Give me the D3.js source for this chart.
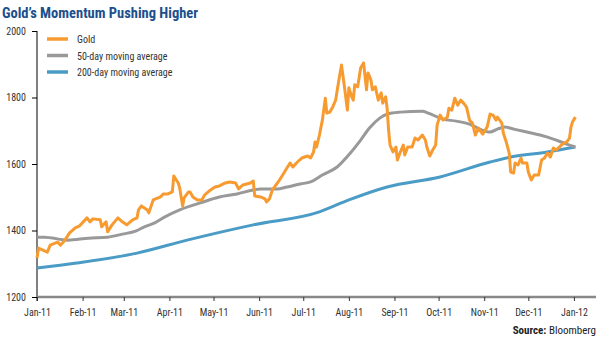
<!DOCTYPE html>
<html>
<head>
<meta charset="utf-8">
<script src="https://cdn.jsdelivr.net/npm/d3@7"></script>
<style>
  body { margin: 0; background: #fff; }
  svg { display: block; }
  .narrow { font-family: "Liberation Sans Narrow", "Roboto Condensed", "DejaVu Sans Condensed", sans-serif; }
</style>
</head>
<body>
<svg id="chart" width="600" height="344"></svg>
<script>
// x positions are days after 1 Jan 2011
var goldDays = [0,1,7,9,14,16,19,22,26,29,34,36,38,43,44,47,48,51,55,58,61,65,68,69,71,75,76,79,84,86,89,92,93,96,97,99,100,103,104,106,109,112,114,118,121,124,128,131,135,137,140,145,147,148,152,155,156,158,160,164,167,172,174,177,180,184,186,188,189,190,192,194,196,197,199,201,203,205,207,209,211,212,214,215,216,218,220,222,224,225,227,228,230,232,234,235,237,238,239,240,242,244,245,247,249,250,252,255,257,259,262,264,265,267,269,271,272,274,276,279,280,282,284,286,288,290,292,294,296,298,300,303,306,308,310,312,313,316,317,319,321,322,324,325,327,329,330,333,334,336,338,341,343,345,347,349,351,353,355,358,360,362,363,364,366];
var goldValues = [1317,1347,1335,1356,1365,1356,1371,1392,1408,1414,1438,1426,1435,1432,1411,1426,1396,1417,1438,1426,1417,1432,1438,1462,1474,1462,1453,1492,1501,1510,1510,1516,1564,1543,1528,1474,1498,1516,1516,1501,1492,1492,1507,1522,1531,1534,1543,1546,1543,1525,1537,1543,1549,1504,1501,1495,1486,1495,1522,1546,1567,1603,1591,1606,1618,1624,1618,1636,1666,1651,1687,1732,1798,1753,1756,1771,1792,1847,1898,1832,1762,1829,1802,1792,1838,1832,1889,1904,1823,1874,1853,1823,1832,1792,1814,1783,1802,1768,1702,1657,1636,1651,1612,1636,1657,1627,1651,1651,1678,1672,1687,1672,1651,1624,1642,1657,1717,1747,1732,1741,1768,1762,1798,1777,1792,1783,1771,1732,1723,1687,1708,1690,1711,1750,1747,1732,1741,1723,1693,1666,1633,1576,1573,1603,1597,1618,1603,1603,1576,1552,1567,1567,1612,1618,1633,1621,1648,1642,1651,1663,1666,1678,1711,1726,1741];

var ma50Days = [0,5,21,35,48,58,67,73,80,87,97,111,124,136,147,152,163,170,179,186,194,204,213,220,226,233,238,247,262,266,276,285,294,301,308,313,318,324,333,342,351,360,366];
var ma50Values = [1380,1380,1371,1377,1380,1389,1398,1411,1423,1441,1462,1483,1501,1510,1522,1525,1525,1531,1540,1546,1567,1591,1633,1672,1708,1738,1750,1756,1759,1753,1735,1729,1720,1705,1696,1705,1711,1705,1696,1687,1675,1660,1651];

var ma200Days = [0,27,68,102,147,192,212,238,274,308,322,347,366];
var ma200Values = [1287,1302,1332,1371,1417,1456,1492,1531,1561,1606,1621,1636,1651];

var seriesNames = ["Gold", "50-day moving average", "200-day moving average"];
var seriesColors = ["#f79b30", "#999999", "#4a9bc5"];
var yTicks = [1200, 1400, 1600, 1800, 2000];
var monthLabels = ["Jan-11","Feb-11","Mar-11","Apr-11","May-11","Jun-11","Jul-11","Aug-11","Sep-11","Oct-11","Nov-11","Dec-11","Jan-12"];

var start = new Date(2011, 0, 1);
function toDate(d) { return d3.timeDay.offset(start, d); }

var svg = d3.select("#chart");
var plotLeft = 37, plotRight = 596, plotTop = 31, plotBottom = 297;

var x = d3.scaleTime()
  .domain([start, new Date(2012, 0, 16)])
  .range([plotLeft, plotRight]);
var y = d3.scaleLinear()
  .domain([1200, 2000])
  .range([plotBottom, plotTop]);

// title
svg.append("text")
  .attr("class", "narrow")
  .attr("x", 2).attr("y", 18)
  .attr("font-size", 14.5).attr("font-weight", "bold")
  .attr("fill", "#1c4f8c")
  .text("Gold\u2019s Momentum Pushing Higher");

// y axis
var yAxis = svg.append("g")
  .attr("class", "narrow")
  .attr("transform", "translate(" + plotLeft + ",0)")
  .call(d3.axisLeft(y).tickValues(yTicks).tickSize(5).tickPadding(6).tickFormat(d3.format("d")));
yAxis.select(".domain").attr("stroke", "#000").attr("d", "M0," + plotTop + "V" + (plotBottom + 4));
yAxis.selectAll(".tick line").attr("stroke", "#000");
yAxis.selectAll("text").attr("font-size", 10).attr("fill", "#333");

// x axis
var months = monthLabels.map(function(m, i) { return new Date(2011, i, 1); });
var xAxis = svg.append("g")
  .attr("class", "narrow")
  .attr("transform", "translate(0," + plotBottom + ")")
  .call(d3.axisBottom(x).tickValues(months).tickSize(4).tickPadding(8)
    .tickFormat(function(d, i) { return monthLabels[i]; }));
xAxis.select(".domain").attr("stroke", "#888").attr("stroke-width", 2.5).attr("d", "M" + plotLeft + ",0H" + plotRight);
xAxis.selectAll(".tick line").attr("stroke", "#333");
xAxis.selectAll("text").attr("font-size", 10).attr("fill", "#333");

// lines (moving averages smoothed, gold kept raw)
var rawLine = d3.line()
  .x(function(d) { return x(toDate(d[0])); })
  .y(function(d) { return y(d[1]); });
var smoothLine = d3.line()
  .curve(d3.curveMonotoneX)
  .x(function(d) { return x(toDate(d[0])); })
  .y(function(d) { return y(d[1]); });

function zipSeries(days, vals) { return days.map(function(d, i) { return [d, vals[i]]; }); }

var allSeries = [
  { pts: zipSeries(ma200Days, ma200Values), color: seriesColors[2], gen: smoothLine },
  { pts: zipSeries(ma50Days, ma50Values), color: seriesColors[1], gen: smoothLine },
  { pts: zipSeries(goldDays, goldValues), color: seriesColors[0], gen: rawLine }
];

allSeries.forEach(function(s) {
  svg.append("path")
    .datum(s.pts)
    .attr("fill", "none")
    .attr("stroke", s.color)
    .attr("stroke-width", 3)
    .attr("stroke-linejoin", "round")
    .attr("d", s.gen);
});

// legend
var legend = svg.append("g").attr("class", "narrow");
seriesNames.forEach(function(name, i) {
  var ly = 39 + i * 16.5;
  legend.append("line")
    .attr("x1", 47).attr("x2", 68).attr("y1", ly).attr("y2", ly)
    .attr("stroke", seriesColors[i]).attr("stroke-width", 3.5);
  legend.append("text")
    .attr("x", 77).attr("y", ly + 4)
    .attr("font-size", 10).attr("fill", "#333")
    .text(name);
});

// source
var src = svg.append("text")
  .attr("class", "narrow")
  .attr("x", 596).attr("y", 334)
  .attr("text-anchor", "end")
  .attr("font-size", 11).attr("fill", "#222");
src.append("tspan").attr("font-weight", "bold").text("Source:");
src.append("tspan").text(" Bloomberg");
</script>
</body>
</html>
